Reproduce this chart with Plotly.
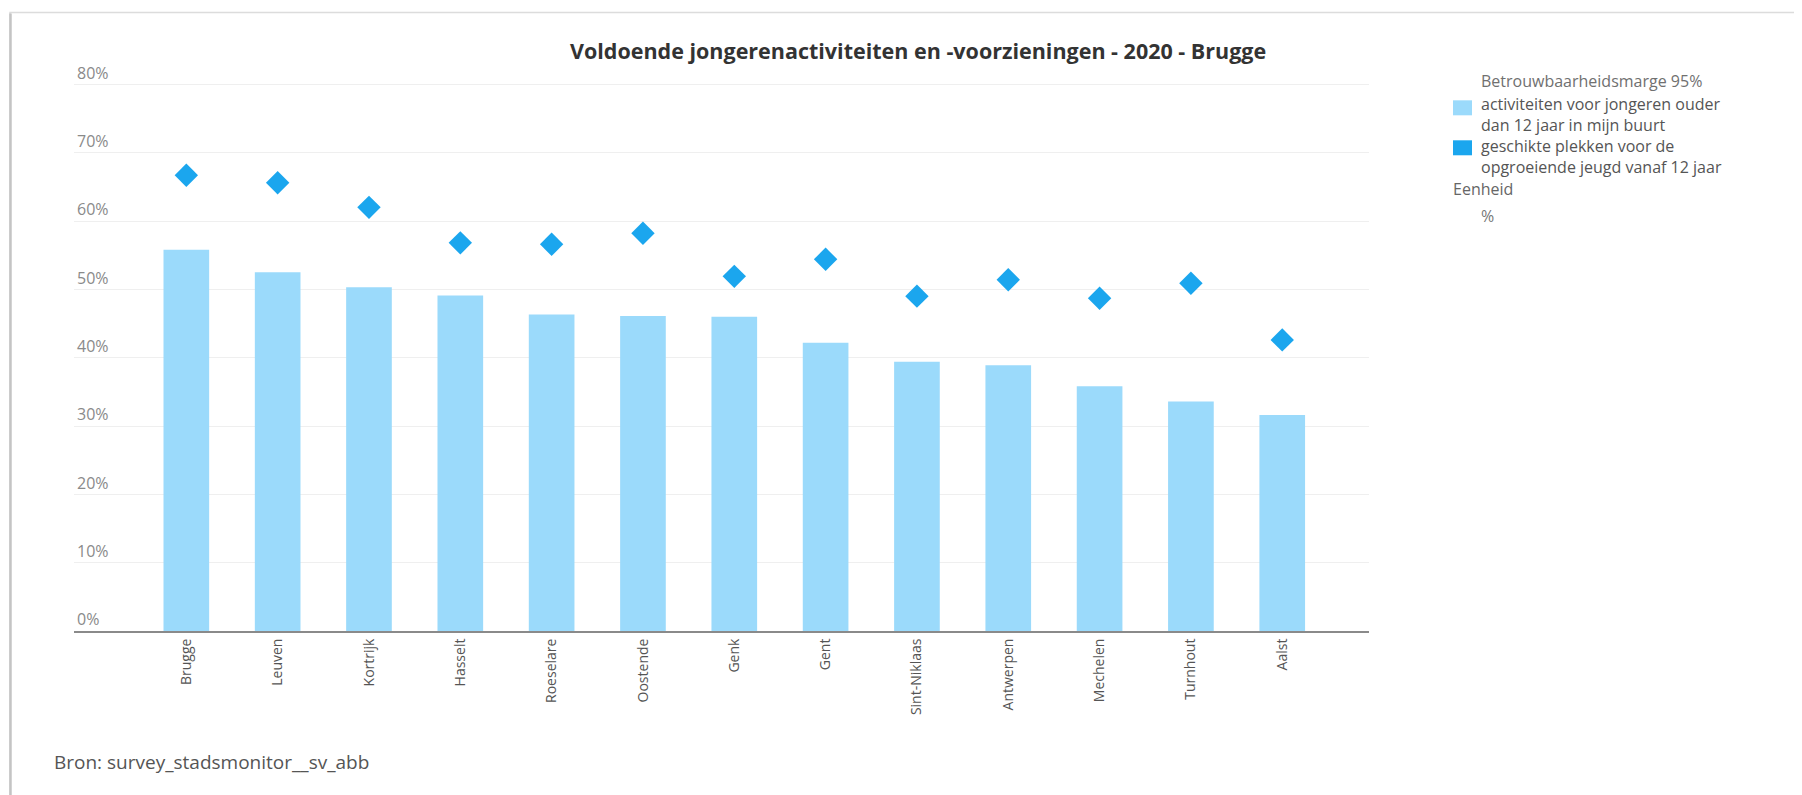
import plotly.graph_objects as go

# ---- data ----
cities = ["Brugge", "Leuven", "Kortrijk", "Hasselt", "Roeselare", "Oostende", "Genk",
          "Gent", "Sint-Niklaas", "Antwerpen", "Mechelen", "Turnhout", "Aalst"]
activiteiten = [55.8, 52.5, 50.3, 49.1, 46.3, 46.1, 46.0, 42.2, 39.4, 38.9, 35.8, 33.6, 31.6]
plekken = [66.7, 65.6, 62.0, 56.8, 56.6, 58.2, 51.9, 54.4, 49.0, 51.4, 48.7, 50.9, 42.6]
ytick_vals = [0, 10, 20, 30, 40, 50, 60, 70, 80]
ytick_text = ["0%", "10%", "20%", "30%", "40%", "50%", "60%", "70%", "80%"]

name_act = "activiteiten voor jongeren ouder dan 12 jaar in mijn buurt"
name_plek = "geschikte plekken voor de opgroeiende jeugd vanaf 12 jaar"
title_text = "Voldoende jongerenactiviteiten en -voorzieningen - 2020 - Brugge"
source_text = "Bron: survey_stadsmonitor__sv_abb"

# ---- layout geometry (screen pixels; page body has an 8px margin) ----
OFF = 8
W, H = 1802 - OFF, 795 - OFF
Y_MAX = 84.0
X0_S, X1_S = 74, 1369          # plot left/right on screen
Y80_S, Y0_S = 84, 631          # screen y of 80% gridline and of the 0 axis
per_unit = (Y0_S - Y80_S) / 80.0
PL = X0_S - OFF
PR = X1_S - OFF
PB = Y0_S - OFF
PT = PB - Y_MAX * per_unit


def px(x):  # screen x -> paper
    return (x - OFF - PL) / (PR - PL)


def py(y):  # screen y -> paper
    return (PB - (y - OFF)) / (PB - PT)


LIGHT = "#9bdafb"
DARK = "#1ba6ee"
FONT = "Open Sans"

fig = go.Figure()
fig.add_trace(go.Bar(x=cities, y=activiteiten, name=name_act,
                     marker=dict(color=LIGHT, line=dict(width=0)), width=0.5,
                     showlegend=False))
fig.add_trace(go.Scatter(x=cities, y=plekken, name=name_plek, mode="markers",
                         marker=dict(symbol="diamond", size=18, color=DARK,
                                     line=dict(width=0)),
                         showlegend=False))

annotations = []


def txt(text, x, y, size, color, xanchor="left", bold=False, align="left"):
    annotations.append(dict(text=("<b>%s</b>" % text) if bold else text,
                            xref="paper", yref="paper", x=px(x), y=py(y),
                            xanchor=xanchor, yanchor="middle", showarrow=False,
                            align=align, borderpad=0,
                            font=dict(family=FONT, size=size, color=color)))


txt(title_text, 918, 50, 21.5, "#333333", xanchor="center", bold=True)
txt("Betrouwbaarheidsmarge 95%", 1480, 81, 16, "#707070")
txt("activiteiten voor jongeren ouder<br>dan 12 jaar in mijn buurt", 1480, 114, 16, "#555555")
txt("geschikte plekken voor de<br>opgroeiende jeugd vanaf 12 jaar", 1480, 156, 16, "#555555")
txt("Eenheid", 1452, 189, 16, "#666666")
txt("%", 1480, 216, 16, "#777777")
txt(source_text, 53, 762, 19, "#555555")

shapes = [
    # card frame
    dict(type="rect", xref="paper", yref="paper", x0=px(10), x1=px(1840),
         y0=py(12), y1=py(840), line=dict(color="#dcdcdc", width=1.5),
         fillcolor="rgba(0,0,0,0)", layer="below"),
    dict(type="line", xref="paper", yref="paper", x0=px(10.5), x1=px(10.5),
         y0=py(13), y1=py(840), line=dict(color="#c4c4c4", width=2.5)),
    # legend swatches
    dict(type="rect", xref="paper", yref="paper", x0=px(1453), x1=px(1472),
         y0=py(100), y1=py(115), fillcolor=LIGHT, line=dict(width=0)),
    dict(type="rect", xref="paper", yref="paper", x0=px(1453), x1=px(1472),
         y0=py(140), y1=py(155), fillcolor=DARK, line=dict(width=0)),
]

fig.update_layout(
    width=W, height=H,
    margin=dict(l=PL, r=W - PR, t=PT, b=H - PB, pad=0, autoexpand=False),
    paper_bgcolor="white", plot_bgcolor="white",
    font=dict(family=FONT, color="#555555"),
    showlegend=False,
    bargap=0.5,
    annotations=annotations,
    shapes=shapes,
    xaxis=dict(type="category", range=[-1.23, 12.95], tickangle=-90,
               tickfont=dict(family=FONT, size=14, color="#555555"),
               showline=True, linecolor="#8a8a8a", linewidth=2,
               showgrid=False, ticks="", ticklen=0, fixedrange=True),
    yaxis=dict(range=[0, Y_MAX], tickmode="array", tickvals=ytick_vals,
               ticktext=ytick_text, ticklabelposition="inside top",
               tickfont=dict(family=FONT, size=16, color="#8a8a8a"),
               showgrid=True, gridcolor="#efefef", gridwidth=1,
               zeroline=False, showline=False, ticks="", fixedrange=True),
)

fig.write_html("out.html")
